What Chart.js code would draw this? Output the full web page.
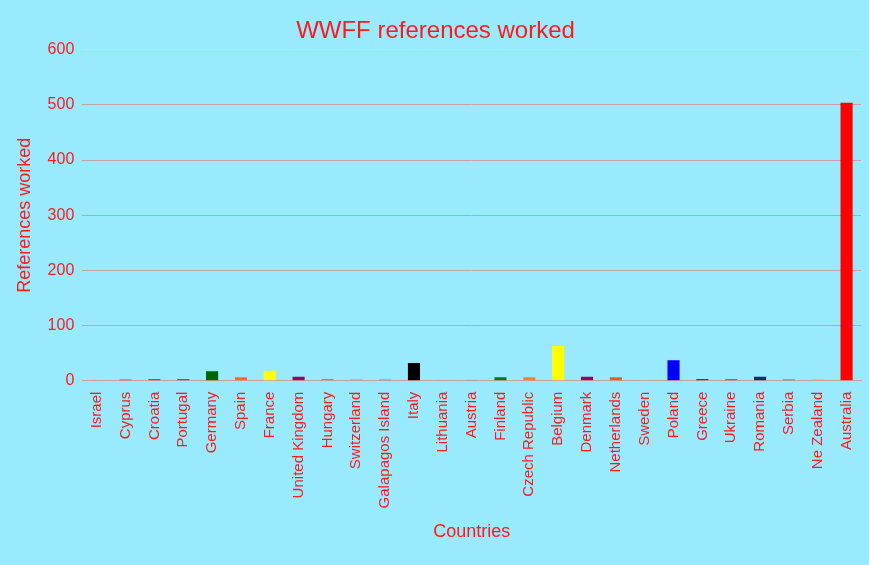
<!DOCTYPE html>
<html><head><meta charset="utf-8">
<script src="https://cdn.jsdelivr.net/npm/chart.js@4"></script>
<style>html,body{margin:0;padding:0;background:#99eaff;}#w{width:869px;height:565px;}</style>
</head><body><div id="w"><canvas id="c"></canvas></div>
<script>
const categories = ["Israel","Cyprus","Croatia","Portugal","Germany","Spain","France","United Kingdom","Hungary","Switzerland","Galapagos Island","Italy","Lithuania","Austria","Finland","Czech Republic","Belgium","Denmark","Netherlands","Sweden","Poland","Greece","Ukraine","Romania","Serbia","Ne Zealand","Australia"];
const values = [1,2,3,3,17,6,18,7,3,2,2,32,1,1,6,6,63,7,6,1,37,3,3,7,2,2,504];
const colors = ["#ff5a6e","#f0304a","#e8303a","#2e6f9e","#006400","#ff6a1a","#ffff00","#990066","#cd853f","#ff69b4","#6495ed","#000000","#ff6666","#4682b4","#0b7a0b","#ff7f27","#ffff00","#990066","#d2691e","#ff8fb0","#0000ff","#2f4f4f","#ff4040","#003366","#2e8b57","#f4a460","#ff0000"];
const yTicks = [0,100,200,300,400,500,600];
Chart.defaults.font.family = "'Liberation Sans', Arial, sans-serif";
Chart.defaults.color = "#ff1a1a";
new Chart(document.getElementById('c'), {
  type: 'bar',
  data: { labels: categories, datasets: [{ data: values, backgroundColor: colors, borderColor: colors, barPercentage: 0.42, categoryPercentage: 1 }] },
  options: {
    responsive: true, maintainAspectRatio: false, animation: false,
    layout: { padding: { left: 10, right: 8, top: 9, bottom: 18 } },
    plugins: { legend: { display: false }, tooltip: { enabled: false },
      title: { display: true, text: 'WWFF references worked', color: '#ff1a1a', font: { size: 24, weight: 'normal' }, padding: { top: 8, bottom: 4 } } },
    scales: {
      x: { grid: { display: false }, border: { color: '#c8a0a8' },
        ticks: { color: '#ff1a1a', font: { size: 15 }, maxRotation: 90, minRotation: 90, autoSkip: false },
        title: { display: true, text: 'Countries', color: '#ff1a1a', font: { size: 18 }, padding: { top: 10 } } },
      y: { min: 0, max: 600, afterBuildTicks: a => { a.ticks = yTicks.map(v => ({ value: v })); },
        grid: { color: ctx => ctx.tick && ctx.tick.value === 600 ? '#c6e0e8' : '#c8a0a8', drawTicks: false },
        border: { display: false },
        ticks: { color: '#ff1a1a', font: { size: 16 }, padding: 8 },
        title: { display: true, text: 'References worked', color: '#ff1a1a', font: { size: 18 } } }
    }
  }
});
</script></body></html>
